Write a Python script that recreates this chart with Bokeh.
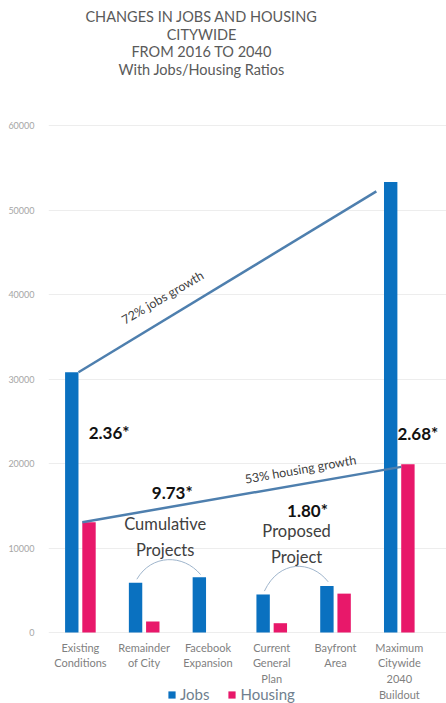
from bokeh.plotting import figure
from bokeh.models import FixedTicker, Legend, LegendItem, Range1d
from bokeh.core.properties import value
from bokeh.embed import file_html
from bokeh.resources import INLINE

# ---- data ----
categories = ["Existing\nConditions", "Remainder\nof City", "Facebook\nExpansion",
              "Current\nGeneral\nPlan", "Bayfront\nArea", "Maximum\nCitywide\n2040\nBuildout"]
jobs = [30800, 5900, 6550, 4500, 5500, 53300]
housing = [13050, 1300, 0, 1100, 4600, 19900]
y_ticks = [0, 10000, 20000, 30000, 40000, 50000, 60000]
title_lines = ["CHANGES IN JOBS AND HOUSING", "CITYWIDE", "FROM 2016 TO 2040", "With Jobs/Housing Ratios"]
ratio_labels = ["2.36*", "9.73*", "1.80*", "2.68*"]
growth_labels = ["72% jobs growth", "53% housing growth"]
group_labels = ["Cumulative\nProjects", "Proposed\nProject"]
series_names = ["Jobs", "Housing"]

JOB_C = "#0A71C0"
HOU_C = "#E8186A"
LINE_C = "#4E7FAE"
FONT = "Lato"

W, H = 446, 703
# frame covers the whole canvas height; value 0 sits at pixel row 632, 60000 at row 125
PX = 60000 / 507.0
Y_TOP = 632 * PX
Y_BOT = -(H - 632) * PX


def yrow(row):
    """annotation helper: canvas pixel row -> y value"""
    return (632 - row) * PX


p = figure(width=W, height=H, output_backend="svg", toolbar_location=None,
           x_range=Range1d(0, 6.24), y_range=Range1d(Y_BOT, Y_TOP),
           min_border_left=48, min_border_right=0, min_border_bottom=0, min_border_top=0)
p.outline_line_color = None
p.background_fill_color = "white"

n = len(categories)
xc = [i + 0.5 for i in range(n)]
off = 0.135
bw = 0.21
xj = [x - off for x in xc]
xh = [x + off for x in xc]

rj = p.vbar(x=xj, top=jobs, bottom=0, width=bw, color=JOB_C, line_color=None)
rh = p.vbar(x=xh, top=housing, bottom=0, width=bw, color=HOU_C, line_color=None)

# axes
p.xgrid.visible = False
p.ygrid.grid_line_color = "#EDEDED"
p.ygrid.ticker = FixedTicker(ticks=y_ticks)
p.yaxis.ticker = FixedTicker(ticks=y_ticks)
p.yaxis.axis_line_color = None
p.yaxis.major_tick_line_color = None
p.yaxis.minor_tick_line_color = None
p.yaxis.major_label_text_font = FONT
p.yaxis.major_label_text_font_size = "9px"
p.yaxis.major_label_text_color = "#A6A6A6"
p.yaxis.major_label_standoff = 8
p.yaxis.formatter.use_scientific = False

p.xaxis.fixed_location = 0
p.xaxis.ticker = FixedTicker(ticks=xc)
p.xaxis.major_label_overrides = {x: c for x, c in zip(xc, categories)}
p.xaxis.axis_line_color = None
p.xaxis.major_tick_line_color = None
p.xaxis.minor_tick_line_color = None
p.xaxis.major_tick_out = 0
p.xaxis.major_tick_in = 0
p.xaxis.major_label_standoff = 8
p.xaxis.major_label_text_font = FONT
p.xaxis.major_label_text_font_size = "11px"
p.xaxis.major_label_text_color = "#7F7F7F"
p.xaxis.major_label_text_line_height = 1.22

# title
p.text(x=[2.4] * 4, y=[yrow(16), yrow(33.5), yrow(51), yrow(68.5)], text=title_lines,
       text_align="center", text_baseline="middle", text_font=value(FONT),
       text_font_size="14.5px", text_color="#5A5A5A")

# growth lines
p.line(x=[xj[0] + bw / 2, xj[5] - bw / 2 - 0.12], y=[jobs[0], jobs[5] - 1100],
       line_color=LINE_C, line_width=2.5)
p.line(x=[xh[0] - bw / 2, xh[5] - bw / 2], y=[housing[0], housing[5] - 300],
       line_color=LINE_C, line_width=2.5)

# arcs over project groups
p.bezier(x0=[xj[1] + 0.02, xj[3] + 0.02], y0=[jobs[1] + 400, jobs[3] + 400],
         x1=[xj[2] + 0.02, xj[4] + 0.02], y1=[jobs[2] + 300, jobs[4] + 500],
         cx0=[xj[1] + 0.25, xj[3] + 0.25], cy0=[9300, 8600],
         cx1=[xj[2] - 0.25, xj[4] - 0.25], cy1=[9300, 8600],
         line_color="#9FB5CC", line_width=1)

# growth labels
p.text(x=[1.79], y=[39650], text=[growth_labels[0]], angle=0.53, text_align="center",
       text_baseline="middle", text_font=value(FONT), text_font_size="12.5px", text_color="#404040")
p.text(x=[3.95], y=[19300], text=[growth_labels[1]], angle=0.175, text_align="center",
       text_baseline="middle", text_font=value(FONT), text_font_size="12.5px", text_color="#404040")

# ratio labels
p.text(x=[0.63, 1.94, 4.06, 5.47], y=[23670, 16570, 14400, 23550], text=ratio_labels,
       text_align=["left", "center", "center", "left"], text_baseline="middle",
       text_font=value(FONT), text_font_size="17px", text_font_style="bold", text_color="#111111")

# group labels
p.text(x=[1.83, 3.89], y=[11250, 10450], text=group_labels, text_align="center",
       text_baseline="middle", text_font=value(FONT), text_font_size="16.5px",
       text_color="#404040", text_line_height=1.3)

legend = Legend(items=[LegendItem(label=series_names[0], renderers=[rj]),
                       LegendItem(label=series_names[1], renderers=[rh])],
                orientation="horizontal", location=(119, 0),
                label_text_font=FONT, label_text_font_size="15px", label_text_color="#6F7F8F",
                glyph_width=9, glyph_height=9, label_standoff=4, spacing=18, padding=2,
                margin=0, background_fill_alpha=0, border_line_color=None)
p.add_layout(legend)

open("out.html", "w").write(file_html(p, INLINE))
